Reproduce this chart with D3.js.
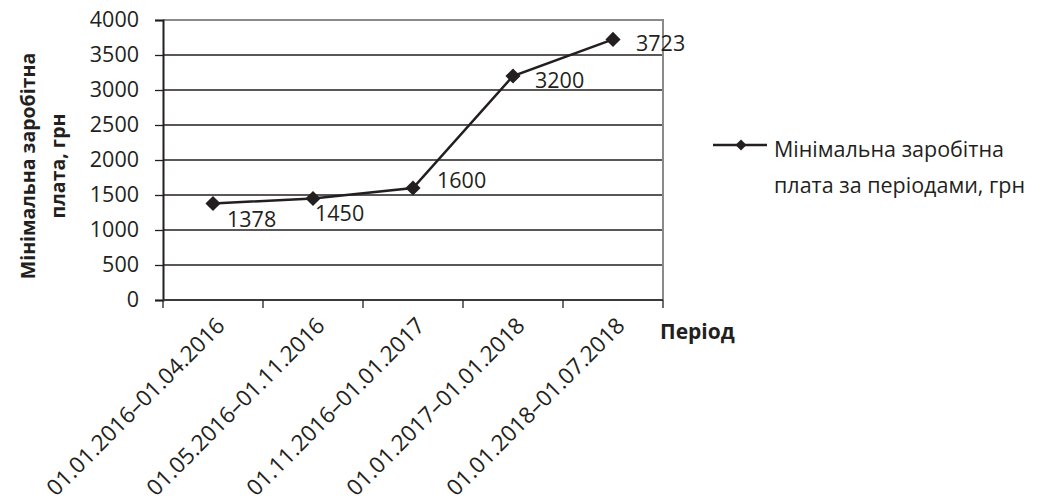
<!DOCTYPE html>
<html>
<head>
<meta charset="utf-8">
<script src="https://cdn.jsdelivr.net/npm/d3@7"></script>
<style>
  body { margin: 0; background: #fff; }
  text { font-family: "Open Sans", sans-serif; fill: #231f20; }
</style>
</head>
<body>
<svg id="chart" width="1043" height="500"></svg>
<script>
// data
const periods = ["01.01.2016–01.04.2016", "01.05.2016–01.11.2016", "01.11.2016–01.01.2017", "01.01.2017–01.01.2018", "01.01.2018–01.07.2018"]
const wages = [1378, 1450, 1600, 3200, 3723]
const yTicks = [0, 500, 1000, 1500, 2000, 2500, 3000, 3500, 4000]
const seriesName = ["Мінімальна заробітна", "плата за періодами, грн"]
const yTitle = ["Мінімальна заробітна", "плата, грн"]
const xTitle = "Період"
// label nudges (px), per point
const labelDx = [14, 2, 24, 22, 23]
const labelDy = [16, 15, -8, 4, 4]

const svg = d3.select('#chart')
const plotL = 163, plotR = 663, plotT = 20, plotB = 300

const x = d3.scaleBand().domain(periods).range([plotL, plotR])
const y = d3.scaleLinear().domain([0, 4000]).range([plotB, plotT])

// gridlines
svg.append('g').selectAll('line')
    .data(yTicks.slice(1))
    .join('line')
    .attr('x1', plotL).attr('x2', plotR)
    .attr('y1', d => y(d)).attr('y2', d => y(d))
    .attr('stroke', '#231f20')
    .attr('stroke-width', 1.3)

// plot border top/right
svg.append('path')
    .attr('d', `M${plotL},${plotT}H${plotR}V${plotB}`)
    .attr('fill', 'none')
    .attr('stroke', '#8a8a8a')
    .attr('stroke-width', 2)

// y axis
const yAxis = svg.append('g')
    .attr('transform', `translate(${plotL},0)`)
    .call(d3.axisLeft(y).tickValues(yTicks).tickSize(8).tickPadding(16).tickFormat(d3.format('d')))
yAxis.select('.domain').attr('stroke', '#231f20').attr('stroke-width', 2)
yAxis.selectAll('.tick line').attr('stroke', '#231f20').attr('stroke-width', 1.3)
yAxis.selectAll('text').attr('font-size', 21.5).attr('font-family', '"Open Sans", sans-serif').attr('fill', '#231f20')

// x axis: ticks at band edges
const edges = periods.map(p => x(p)).concat([plotR])
svg.append('line')
    .attr('x1', plotL).attr('x2', plotR).attr('y1', plotB).attr('y2', plotB)
    .attr('stroke', '#3a3a3a').attr('stroke-width', 2)
svg.append('g').selectAll('line')
    .data(edges)
    .join('line')
    .attr('x1', d => d).attr('x2', d => d)
    .attr('y1', plotB).attr('y2', plotB + 8)
    .attr('stroke', '#231f20').attr('stroke-width', 1.3)

svg.append('g').selectAll('text')
    .data(periods)
    .join('text')
    .attr('transform', d => `translate(${x(d) + x.bandwidth() / 2 + 2},${plotB + 16}) rotate(-45)`)
    .attr('text-anchor', 'end')
    .attr('dy', '0.7em')
    .attr('font-size', 22.5)
    .text(d => d)

svg.append('text')
    .attr('x', plotL + 497).attr('y', plotB + 39)
    .attr('font-size', 21).attr('font-weight', 'bold')
    .text(xTitle)

// y title
const yt = svg.append('text')
    .attr('transform', `translate(0,166) rotate(-90)`)
    .attr('text-anchor', 'middle')
    .attr('font-size', 19.5).attr('font-weight', 'bold')
yt.selectAll('tspan').data(yTitle).join('tspan')
    .attr('x', 0)
    .attr('y', (d, i) => 35 + i * 30)
    .text(d => d)

// line
const line = d3.line()
    .x((d, i) => x(periods[i]) + x.bandwidth() / 2)
    .y(d => y(d))
svg.append('path')
    .datum(wages)
    .attr('d', line)
    .attr('fill', 'none')
    .attr('stroke', '#231f20')
    .attr('stroke-width', 2.5)

const diamond = d3.symbol().type(d3.symbolSquare).size(115)
svg.append('g').selectAll('path')
    .data(wages)
    .join('path')
    .attr('d', diamond)
    .attr('transform', (d, i) => `translate(${x(periods[i]) + x.bandwidth() / 2},${y(d)}) rotate(45)`)
    .attr('fill', '#231f20')

svg.append('g').selectAll('text')
    .data(wages)
    .join('text')
    .attr('x', (d, i) => x(periods[i]) + x.bandwidth() / 2 + labelDx[i])
    .attr('y', (d, i) => y(d) + labelDy[i])
    .attr('dy', '0.35em')
    .attr('font-size', 21.5)
    .text(d => d)

// legend
const lg = svg.append('g').attr('transform', 'translate(713,145)')
lg.append('line').attr('x1', 0).attr('x2', 54).attr('y1', 0).attr('y2', 0)
    .attr('stroke', '#231f20').attr('stroke-width', 2.5)
lg.append('path').attr('d', d3.symbol().type(d3.symbolSquare).size(60))
    .attr('transform', 'translate(28,0) rotate(45)').attr('fill', '#231f20')
lg.append('text')
    .attr('font-size', 21.5)
    .selectAll('tspan').data(seriesName).join('tspan')
    .attr('x', 61)
    .attr('y', (d, i) => 12 + i * 36)
    .text(d => d)
</script>
</body>
</html>
